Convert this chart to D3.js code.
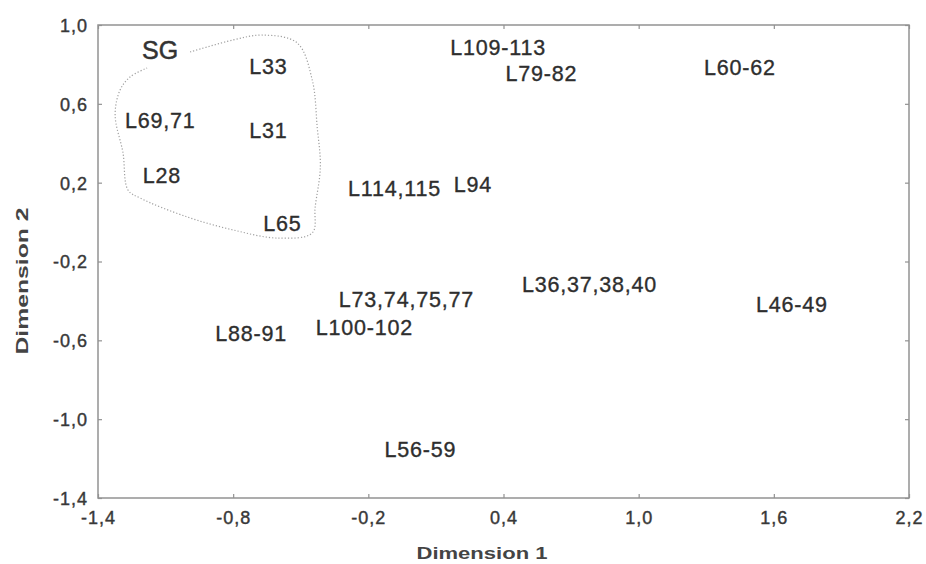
<!DOCTYPE html>
<html>
<head>
<meta charset="utf-8">
<script src="https://cdn.jsdelivr.net/npm/d3@7"></script>
<style>
  html, body { margin: 0; padding: 0; background: #fff; }
  svg { display: block; }
  text { font-family: "Liberation Sans", Arial, sans-serif; }
</style>
</head>
<body>
<svg id="chart" width="926" height="564"></svg>
<script>
// ---- data ----
const labelNames = ["L33", "L69,71", "L31", "L28", "L65", "L109-113", "L79-82", "L60-62",
  "L114,115", "L94", "L73,74,75,77", "L36,37,38,40", "L46-49", "L88-91", "L100-102", "L56-59"];
const dim1 = [-0.644, -1.124, -0.644, -1.116, -0.582, 0.376, 0.568, 1.449,
  -0.084, 0.264, -0.031, 0.782, 1.680, -0.720, -0.218, 0.031];
const dim2 = [0.792, 0.518, 0.467, 0.239, -0.005, 0.888, 0.753, 0.787,
  0.173, 0.193, -0.390, -0.314, -0.416, -0.563, -0.532, -1.151];

const groupName = "SG";
const groupPos = [-1.124, 0.873];
const groupOutlineX = [-0.991, -0.80, -0.667, -0.516, -0.449, -0.427, -0.413, -0.436, -0.449,
  -0.604, -0.80, -1.004, -1.213, -1.267, -1.289, -1.324, -1.302, -1.258, -1.182];
const groupOutlineY = [0.863, 0.924, 0.949, 0.909, 0.721, 0.482, 0.280, 0.077, -0.055,
  -0.081, -0.040, 0.026, 0.122, 0.163, 0.351, 0.543, 0.670, 0.736, 0.782];

const xTicks = [-1.4, -0.8, -0.2, 0.4, 1.0, 1.6, 2.2];
const yTicks = [-1.4, -1.0, -0.6, -0.2, 0.2, 0.6, 1.0];
const xTitle = "Dimension 1";
const yTitle = "Dimension 2";

// ---- layout ----
(function () {
const svg = d3.select("#chart");
const pL = 98, pR = 909, pT = 25, pB = 498;
const x = d3.scaleLinear().domain([-1.4, 2.2]).range([pL, pR]);
const y = d3.scaleLinear().domain([-1.4, 1.0]).range([pB, pT]);
const fmt = d => d3.format(".1f")(d).replace(".", ",").replace("−", "-");

svg.append("rect").attr("width", 926).attr("height", 564).attr("fill", "#fff");

// frame
svg.append("rect")
  .attr("x", pL).attr("y", pT)
  .attr("width", pR - pL).attr("height", pB - pT)
  .attr("fill", "none").attr("stroke", "#929292").attr("stroke-width", 1.5);

// axes with inward ticks
const gB = svg.append("g").attr("transform", `translate(0,${pB})`)
  .call(d3.axisBottom(x).tickValues(xTicks).tickSize(-4).tickFormat(fmt));
const gT = svg.append("g").attr("transform", `translate(0,${pT})`)
  .call(d3.axisTop(x).tickValues(xTicks).tickSize(-4).tickFormat(""));
const gL = svg.append("g").attr("transform", `translate(${pL},0)`)
  .call(d3.axisLeft(y).tickValues(yTicks).tickSize(-4).tickFormat(fmt));
const gR = svg.append("g").attr("transform", `translate(${pR},0)`)
  .call(d3.axisRight(y).tickValues(yTicks).tickSize(-4).tickFormat(""));

[gB, gT, gL, gR].forEach(g => {
  g.select(".domain").remove();
  g.selectAll(".tick line").attr("stroke", "#929292").attr("stroke-width", 1.2);
});
[gB, gL].forEach(g => g.selectAll(".tick text")
  .attr("font-size", 18).attr("letter-spacing", 1)
  .attr("fill", "#383838").attr("stroke", "#383838").attr("stroke-width", 0.4)
  .attr("font-family", "Liberation Sans, Arial, sans-serif"));
gB.selectAll(".tick text").attr("y", 26).attr("dy", 0);
gL.selectAll(".tick text").attr("x", -10).attr("dy", "0.36em");

// axis titles
svg.append("text")
  .attr("x", 482).attr("y", 559)
  .attr("text-anchor", "middle")
  .attr("font-size", 17).attr("font-weight", "bold").attr("fill", "#444")
  .attr("textLength", 131).attr("lengthAdjust", "spacingAndGlyphs")
  .text(xTitle);
svg.append("text")
  .attr("transform", "translate(28,281) rotate(-90)")
  .attr("text-anchor", "middle")
  .attr("font-size", 17).attr("font-weight", "bold").attr("fill", "#444")
  .attr("textLength", 147).attr("lengthAdjust", "spacingAndGlyphs")
  .text(yTitle);

// group outline (dotted)
const outline = groupOutlineX.map((v, i) => [v, groupOutlineY[i]]);
svg.append("path")
  .datum(outline)
  .attr("d", d3.line().x(d => x(d[0])).y(d => y(d[1])).curve(d3.curveCatmullRom.alpha(0.5)))
  .attr("fill", "none").attr("stroke", "#a0a0a0").attr("stroke-width", 1.2)
  .attr("stroke-dasharray", "1.2,2");

svg.append("text")
  .attr("x", x(groupPos[0])).attr("y", y(groupPos[1]))
  .attr("dy", "0.36em").attr("text-anchor", "middle")
  .attr("font-size", 25).attr("fill", "#333")
  .attr("stroke", "#333").attr("stroke-width", 0.5)
  .text(groupName);

// point labels
svg.append("g").selectAll("text")
  .data(labelNames)
  .join("text")
  .attr("x", (d, i) => x(dim1[i]))
  .attr("y", (d, i) => y(dim2[i]))
  .attr("dy", "0.36em")
  .attr("text-anchor", "middle")
  .attr("font-size", 21.5).attr("letter-spacing", 0.8)
  .attr("fill", "#2e2e2e").attr("stroke", "#2e2e2e").attr("stroke-width", 0.35)
  .text(d => d);
})();
</script>
</body>
</html>
